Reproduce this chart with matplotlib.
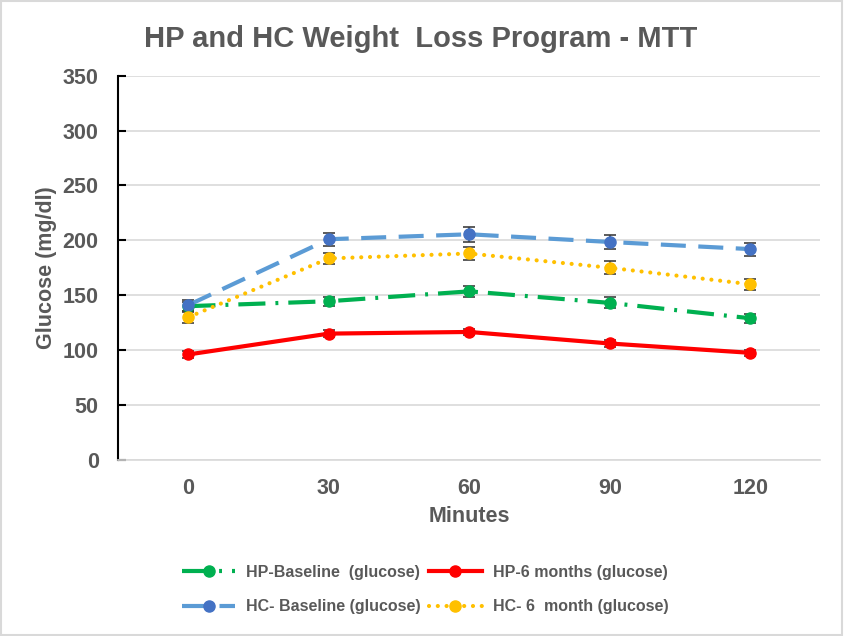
import numpy as np
import matplotlib.pyplot as plt
from matplotlib.patches import Rectangle

plt.rcParams['font.family'] = ['Liberation Sans', 'DejaVu Sans']

minutes = [0, 30, 60, 90, 120]
hp_base = [140, 144.5, 153.5, 143, 129]
hp_base_err = [4, 4, 5, 5, 4]
hp_6m = [96, 115, 116.5, 106, 97.5]
hp_6m_err = [3, 3, 3, 3, 3]
hc_base = [141, 201, 205.5, 198.5, 192]
hc_base_err = [5, 6, 7, 6, 6]
hc_6m = [130, 183.5, 188, 175, 160]
hc_6m_err = [5, 5, 6, 6, 5]

gray = '#595959'

fig = plt.figure(figsize=(8.44, 6.36), dpi=100)
ax = fig.add_axes([0.140, 0.277, 0.832, 0.604])

def series(y, err, color, mcolor, label, dashes, cap='butt'):
    ax.errorbar(minutes, y, yerr=err, fmt='none', ecolor='#404040',
                elinewidth=1.2, capsize=4, capthick=1.2, zorder=3)
    line, = ax.plot(minutes, y, color=color, lw=3, marker='o', markersize=8,
                    markerfacecolor=mcolor, markeredgecolor=mcolor,
                    label=label, zorder=4)
    if dashes is not None:
        line.set_dashes(dashes)
    line.set_dash_capstyle(cap)
    return line

l1 = series(hp_base, hp_base_err, '#00B050', '#00B050', 'HP-Baseline  (glucose)',
            (6.5, 2.4, 0.7, 2.4))
l2 = series(hp_6m, hp_6m_err, '#FF0000', '#FF0000', 'HP-6 months (glucose)', None)
l3 = series(hc_base, hc_base_err, '#5B9BD5', '#4472C4', 'HC- Baseline (glucose)',
            (6, 3))
l4 = series(hc_6m, hc_6m_err, '#FFC000', '#FFC000', 'HC- 6  month (glucose)',
            (0.01, 2.1), cap='round')

ax.set_xlim(-15, 135)
ax.set_ylim(0, 350)
ax.set_xticks(minutes)
ax.set_yticks(np.arange(0, 351, 50))
ax.grid(axis='y', color='#D9D9D9', lw=1.2, zorder=0)
ax.set_axisbelow(True)
for s in ['top', 'right']:
    ax.spines[s].set_visible(False)
ax.spines['bottom'].set_color('#D9D9D9')
ax.spines['bottom'].set_linewidth(1.2)
ax.spines['left'].set_color('black')
ax.spines['left'].set_linewidth(1.5)
ax.tick_params(axis='y', direction='in', length=6, width=1.5, color='black',
               labelsize=15.5, labelcolor=gray, pad=14)
ax.tick_params(axis='x', length=0, labelsize=15.5, labelcolor=gray, pad=13)
for t in ax.get_xticklabels() + ax.get_yticklabels():
    t.set_fontweight('bold')

ax.set_xlabel('Minutes', fontsize=15.5, fontweight='bold', color=gray, labelpad=5)
ax.set_ylabel('Glucose (mg/dl)', fontsize=15.5, fontweight='bold', color=gray, labelpad=4)
fig.text(0.498, 0.938, 'HP and HC Weight  Loss Program - MTT', ha='center',
         va='center', fontsize=21, fontweight='bold', color=gray)

leg = fig.legend([l1, l3, l2, l4], [l.get_label() for l in [l1, l3, l2, l4]],
                 ncol=2, loc='center', bbox_to_anchor=(0.504, 0.073), frameon=False,
                 fontsize=11.5, handlelength=3.3, columnspacing=0.5,
                 labelspacing=1.2, handletextpad=0.7)
for t in leg.get_texts():
    t.set_color(gray)
    t.set_fontweight('bold')

fig.patches.append(Rectangle((0.001, 0.002), 0.997, 0.996, transform=fig.transFigure,
                             fill=False, edgecolor='#D9D9D9', lw=1.5))

fig.savefig('out.png', dpi=100)
